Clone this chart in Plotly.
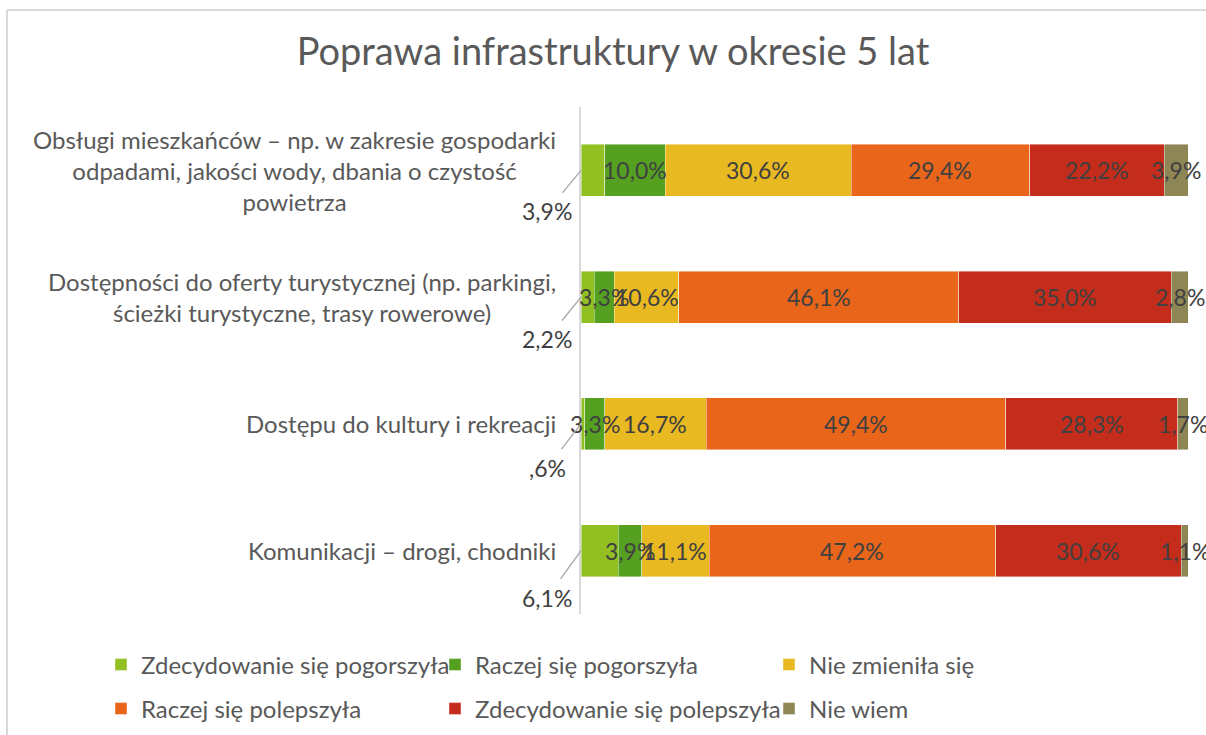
import plotly.graph_objects as go

categories = [
    "Obsługi mieszkańców – np. w zakresie gospodarki<br>odpadami, jakości wody, dbania o czystość<br>powietrza",
    "Dostępności do oferty turystycznej (np. parkingi,<br>ścieżki turystyczne, trasy rowerowe)",
    "Dostępu do kultury i rekreacji",
    "Komunikacji – drogi, chodniki",
]
series_names = [
    "Zdecydowanie się pogorszyła",
    "Raczej się pogorszyła",
    "Nie zmieniła się",
    "Raczej się polepszyła",
    "Zdecydowanie się polepszyła",
    "Nie wiem",
]
zdecydowanie_pogorszyla = [3.9, 2.2, 0.6, 6.1]
raczej_pogorszyla = [10.0, 3.3, 3.3, 3.9]
nie_zmienila = [30.6, 10.6, 16.7, 11.1]
raczej_polepszyla = [29.4, 46.1, 49.4, 47.2]
zdecydowanie_polepszyla = [22.2, 35.0, 28.3, 30.6]
nie_wiem = [3.9, 2.8, 1.7, 1.1]
series_values = [zdecydowanie_pogorszyla, raczej_pogorszyla, nie_zmienila,
                 raczej_polepszyla, zdecydowanie_polepszyla, nie_wiem]
colors = ["#92C022", "#55A021", "#E8B920", "#E8651A", "#C42D1B", "#8F8656"]

FONT = "Lato"
TXT = "#404040"
GREY = "#595959"

def fmt(v):
    s = f"{v:.1f}".replace(".", ",")
    if s.startswith("0,"):
        s = s[1:]
    return s + "%"

fig = go.Figure()
for i, (name, vals, col) in enumerate(zip(series_names, series_values, colors)):
    fig.add_trace(go.Bar(
        y=categories, x=vals, name=name, orientation="h",
        marker=dict(color=col, line=dict(color="rgba(255,255,255,0.6)", width=0.7)),
        legend="legend" if i < 3 else "legend2",
        hoverinfo="skip",
    ))

annotations = []
# data labels (drawn above all bars), centred in each segment
for i, vals in enumerate(series_values):
    if i == 0:
        continue
    for j, cat in enumerate(categories):
        start = sum(series_values[k][j] for k in range(i))
        annotations.append(dict(
            x=start + vals[j] / 2, y=cat, xref="x", yref="y", text=fmt(vals[j]),
            showarrow=False, xanchor="center", yanchor="middle",
            font=dict(family=FONT, size=23, color=TXT),
        ))
# outside labels with leader lines for first series
for j, (cat, v) in enumerate(zip(categories, zdecydowanie_pogorszyla)):
    annotations.append(dict(
        x=0, y=cat, xref="x", yref="y", text=fmt(v),
        showarrow=True, arrowhead=0, arrowwidth=1.3, arrowcolor="#A6A6A6",
        ax=-34, ay=[41, 42, 44, 47][j], startstandoff=4,
        font=dict(family=FONT, size=23, color=TXT),
    ))
# category labels
for cat in categories:
    annotations.append(dict(
        x=0, y=cat, xref="paper", yref="y", text=cat, showarrow=False,
        xanchor="right", xshift=-23, align="center",
        font=dict(family=FONT, size=24, color=GREY),
    ))

L, R, T, B = 581, 18, 107, 121
W, H = 1206, 735
pw, ph = W - L - R, H - T - B

def px_x(p):
    return (p - L) / pw

def px_y(p):
    return 1 - (p - T) / ph

shapes = [
    dict(type="line", xref="paper", yref="paper", x0=px_x(7), x1=px_x(7),
         y0=px_y(760), y1=px_y(10), line=dict(color="#D9D9D9", width=2)),
    dict(type="line", xref="paper", yref="paper", x0=px_x(7), x1=px_x(1230),
         y0=px_y(10), y1=px_y(10), line=dict(color="#D9D9D9", width=2)),
]

leg_common = dict(orientation="h", xanchor="left", yanchor="middle",
                  entrywidth=289, entrywidthmode="pixels", traceorder="normal",
                  font=dict(family=FONT, size=24, color=GREY), bgcolor="rgba(0,0,0,0)")

fig.update_layout(
    width=W, height=H,
    margin=dict(l=L, r=R, t=T, b=B, autoexpand=False),
    barmode="stack", bargap=0.59,
    paper_bgcolor="white", plot_bgcolor="white",
    title=dict(text="Poprawa infrastruktury w okresie 5 lat", x=613 / W, xanchor="center",
               y=1 - 52 / H, yanchor="middle",
               font=dict(family=FONT, size=38, color=GREY)),
    xaxis=dict(range=[0, 100], visible=False, fixedrange=True),
    yaxis=dict(autorange="reversed", showticklabels=False, showgrid=False,
               showline=True, linecolor="#D9D9D9", linewidth=2, ticks=""),
    legend=dict(x=px_x(101), y=px_y(665), **leg_common),
    legend2=dict(x=px_x(101), y=px_y(709), **leg_common),
    annotations=annotations,
    shapes=shapes,
    showlegend=True,
)

fig.write_html("out.html", config={"displayModeBar": False},
               post_script="document.body.style.margin='0';")
